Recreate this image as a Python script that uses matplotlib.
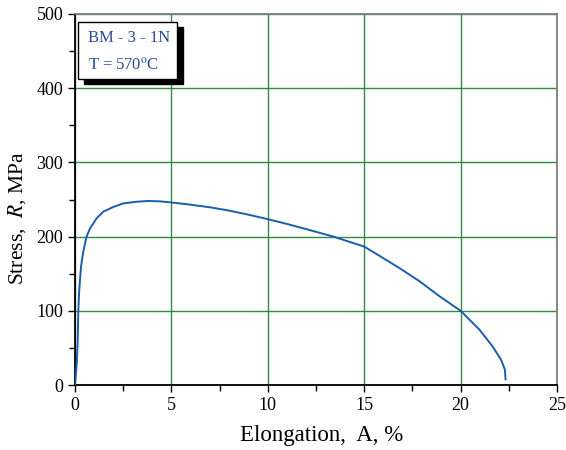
import matplotlib
matplotlib.use("Agg")
import matplotlib.pyplot as plt
from matplotlib.patches import Rectangle
from matplotlib.ticker import MultipleLocator

elong = [0, 0.09, 0.14, 0.17, 0.22, 0.31, 0.43, 0.6, 0.78, 1.12, 1.47, 1.99, 2.5, 3.2, 3.8, 4.4, 5,
         6, 7, 8, 9, 10, 11, 12, 13.4, 15, 15.8, 16.8, 17.86, 18.9, 20, 20.97, 21.66, 22.1, 22.3, 22.33]
stress = [0, 29, 60.6, 100, 128, 159, 180, 200, 211, 224.6, 233.6, 240, 244.7, 247, 248, 247.5, 246,
          243, 239.5, 235, 229.5, 223.5, 217, 210, 200, 186.5, 174, 158, 140, 119.7, 100, 74.8, 52, 34, 20.5, 7.7]
x_ticks = [0, 5, 10, 15, 20, 25]
y_ticks = [0, 100, 200, 300, 400, 500]
label_lines = ["BM - 3 - 1N", "T = 570$^{\\mathrm{o}}$C"]

plt.rcParams['font.family'] = ['Liberation Serif', 'DejaVu Serif']
plt.rcParams['mathtext.fontset'] = 'stix'

fig = plt.figure(figsize=(5.66, 4.5), dpi=100)
ax = fig.add_axes([75/566, 65/450, 482/566, 371/450])

grid_c = '#2e8b45'
ax.plot(elong, stress, color='#1b5eab', lw=1.4, zorder=3, solid_joinstyle='round')
ax.set_xlim(0, 25)
ax.set_ylim(0, 500)
ax.set_xticks(x_ticks)
ax.set_yticks(y_ticks)
ax.xaxis.set_minor_locator(MultipleLocator(2.5))
ax.yaxis.set_minor_locator(MultipleLocator(50))
ax.grid(True, which='major', color=grid_c, lw=1.0, zorder=1)
ax.tick_params(which='both', direction='out', labelsize=13, color='black')
ax.tick_params(which='major', length=5, width=1)
ax.tick_params(which='minor', length=4, width=1)
for s in ['left', 'bottom']:
    ax.spines[s].set_color('black')
    ax.spines[s].set_linewidth(1.3)
for s in ['top', 'right']:
    ax.spines[s].set_color('#808080')
    ax.spines[s].set_linewidth(1.3)

ax.set_xlabel("Elongation,  A, %", fontsize=16.5)
ax.set_ylabel("Stress,  $\\mathit{R}$, MPa", fontsize=15.5)
ax.xaxis.set_label_coords(0.511, -0.108)
ax.yaxis.set_label_coords(-0.098, 0.451)

# legend-like box with shadow
bx0, by0, bw, bh = 78, 450-79, 99, 57
ax_tr = fig.transFigure
def fx(px): return px/566
def fy(py): return py/450
fig.patches.append(Rectangle((fx(bx0+6), fy(by0-5)), fx(bw), fy(bh), transform=ax_tr,
                             facecolor='black', edgecolor='black', zorder=5))
fig.patches.append(Rectangle((fx(bx0), fy(by0)), fx(bw), fy(bh), transform=ax_tr,
                             facecolor='white', edgecolor='black', lw=1, zorder=6))
fig.text(fx(88), fy(450-42), label_lines[0], fontsize=12, color='#2b4a99', va='baseline', zorder=7)
fig.text(fx(88), fy(450-70), label_lines[1], fontsize=12, color='#2b4a99', va='baseline', zorder=7)

fig.savefig("out.png", dpi=100)
